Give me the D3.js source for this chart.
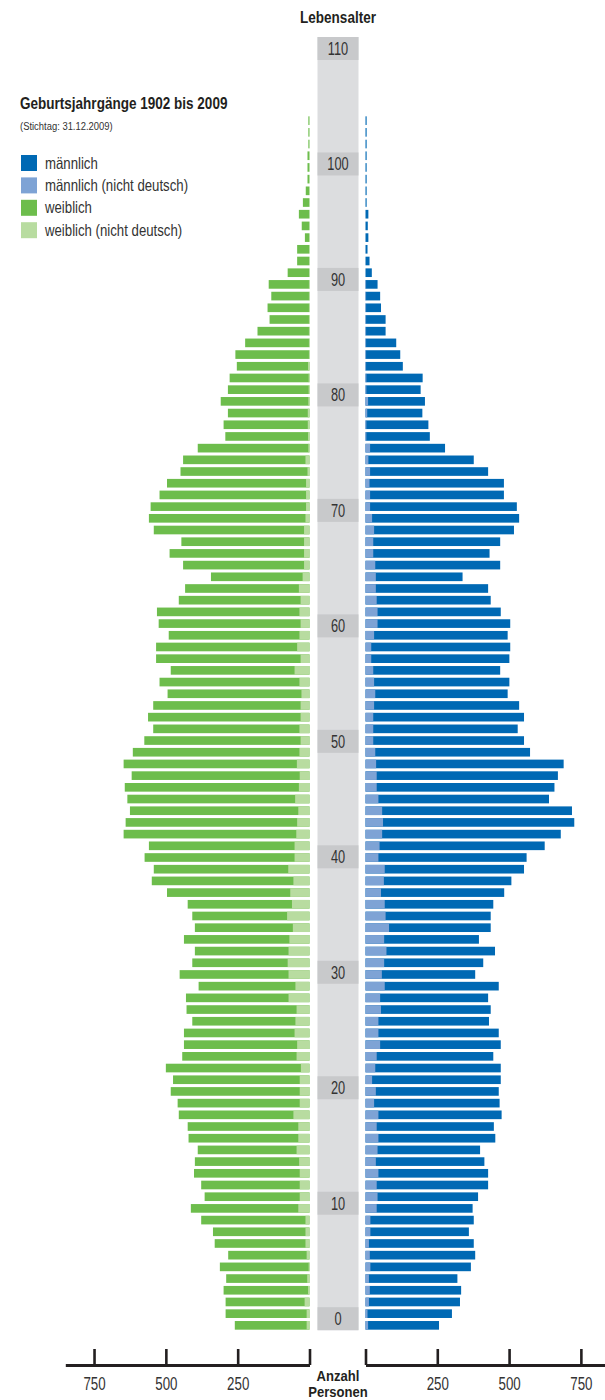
<!DOCTYPE html>
<html>
<head>
<meta charset="utf-8">
<script src="https://cdn.jsdelivr.net/npm/d3@7"></script>
<style>
  body { margin: 0; background: #fff; }
  svg { display: block; font-family: "Liberation Sans", Arial, sans-serif; }
</style>
</head>
<body>
<svg id="chart" width="605" height="1400"></svg>
<script>
// ages 0..103 (index = age)
const femaleTotal = [260, 292, 292, 299, 290, 312, 283, 330, 336, 377,
    413, 365, 377, 402, 399, 389, 421, 424, 455, 459,
    483, 475, 500, 443, 437, 437, 408, 428, 430, 386,
    452, 408, 399, 437, 399, 408, 424, 496, 549, 542,
    574, 559, 647, 640, 625, 634, 643, 619, 647, 615,
    575, 544, 562, 544, 494, 522, 483, 534, 534, 490,
    525, 531, 455, 433, 343, 440, 487, 446, 542, 559,
    553, 522, 496, 449, 440, 389, 293, 299, 284, 309,
    284, 278, 253, 258, 224, 181, 139, 146, 133, 142,
    76, 43, 43, 16, 27, 37, 23, 13, 7, 7,
    7, 4, 4, 4];
const femaleForeign = [10, 10, 17, 5, 8, 3, 10, 14, 14, 14,
    39, 34, 34, 34, 36, 45, 39, 39, 56, 34,
    34, 34, 30, 45, 43, 52, 49, 45, 73, 49,
    73, 76, 73, 70, 58, 78, 61, 67, 56, 74,
    52, 52, 46, 43, 39, 50, 37, 34, 44, 35,
    31, 35, 31, 31, 28, 35, 52, 31, 43, 35,
    31, 35, 31, 37, 24, 19, 19, 19, 19, 14,
    12, 12, 12, 7, 14, 4, 5, 6, 6, 4,
    3, 3, 5, 2, 2, 2, 2, 2, 2, 2,
    0, 0, 0, 0, 0, 0, 0, 0, 0, 0,
    0, 0, 0, 0];
const maleTotal = [256, 301, 329, 333, 320, 367, 382, 377, 360, 377,
    373, 392, 427, 427, 414, 399, 452, 447, 474, 467,
    464, 471, 471, 445, 471, 464, 430, 436, 427, 464,
    382, 410, 451, 395, 436, 436, 445, 483, 508, 552,
    561, 624, 680, 727, 719, 639, 658, 670, 690, 573,
    552, 530, 552, 535, 495, 501, 469, 501, 504, 495,
    504, 471, 436, 427, 338, 469, 432, 469, 517, 535,
    527, 482, 482, 427, 377, 277, 224, 219, 198, 207,
    192, 199, 130, 121, 107, 70, 70, 54, 51, 42,
    22, 14, 7, 10, 8, 10, 4, 4, 4, 4,
    4, 4, 4, 4];
const maleForeign = [9, 7, 12, 15, 12, 17, 15, 12, 17, 17,
    39, 42, 39, 45, 36, 42, 45, 39, 45, 30,
    36, 23, 34, 39, 51, 45, 45, 54, 51, 67,
    57, 65, 73, 65, 82, 70, 67, 54, 64, 67,
    45, 49, 58, 61, 58, 45, 39, 39, 37, 34,
    27, 27, 27, 30, 34, 30, 27, 20, 20, 30,
    42, 42, 39, 36, 36, 34, 27, 27, 30, 23,
    16, 16, 14, 16, 10, 16, 3, 3, 6, 9,
    3, 3, 2, 2, 2, 2, 2, 2, 2, 2,
    0, 0, 0, 0, 0, 0, 0, 0, 0, 0,
    0, 0, 0, 0];

const ageLabels = [0, 10, 20, 30, 40, 50, 60, 70, 80, 90, 100, 110];
const axisTicks = [0, 250, 500, 750];

const legendItems = [
    { label: "männlich", color: "#0069b4" },
    { label: "männlich (nicht deutsch)", color: "#7ea3d5" },
    { label: "weiblich", color: "#6dbd4c" },
    { label: "weiblich (nicht deutsch)", color: "#b8dca0" }
];

const svg = d3.select("#chart");
const NARROW = 0.82; // squeeze Liberation Sans to look like a condensed face

// text helper: condensed look via horizontal scale
function addText(parent, x, y, txt, size, opts = {}) {
    return parent.append("text")
        .attr("transform", `translate(${x},${y}) scale(${opts.squeeze || NARROW},1)`)
        .attr("text-anchor", opts.anchor || "start")
        .attr("font-size", size)
        .attr("font-weight", opts.bold ? "bold" : "normal")
        .attr("fill", opts.fill || "#333")
        .text(txt);
}

const ages = d3.range(femaleTotal.length);
const rows = ages.map(a => ({
    age: a,
    fTot: femaleTotal[a], fFor: femaleForeign[a],
    mTot: maleTotal[a], mFor: maleForeign[a]
}));

// scales
const xLeft = d3.scaleLinear().domain([0, 850]).range([309.5, 65.3]);
const xRight = d3.scaleLinear().domain([0, 834]).range([365.5, 605]);
const y = d3.scaleBand()
    .domain(ages.slice().reverse())
    .range([114.8, 1331.2])
    .paddingInner(0.26)
    .paddingOuter(0.13);
const yLab = d3.scaleLinear().domain([0, 110]).range([1318.7, 48.5]);

// middle grey column
const bandX = 317.5, bandW = 41, boxH = 23;
svg.append("rect")
    .attr("x", bandX)
    .attr("y", yLab(110) - boxH / 2)
    .attr("width", bandW)
    .attr("height", yLab(0) - yLab(110) + boxH)
    .attr("fill", "#dcdddf");

const lab = svg.append("g").selectAll("g")
    .data(ageLabels)
    .enter().append("g")
    .attr("transform", d => `translate(0,${yLab(d)})`);
lab.append("rect")
    .attr("x", bandX)
    .attr("y", -boxH / 2)
    .attr("width", bandW)
    .attr("height", boxH)
    .attr("fill", "#c8c9cb");
lab.each(function (d) {
    addText(d3.select(this), bandX + bandW / 2, 6.3, d, 17.5, { anchor: "middle", squeeze: 0.73 });
});

addText(svg, 338, 23, "Lebensalter", 16.5, { anchor: "middle", bold: true, fill: "#231f20" });

// bars: women to the left, men to the right; non-German part next to the centre
const gBars = svg.append("g");
const h = y.bandwidth();

gBars.selectAll(".fTot").data(rows).enter().append("rect")
    .attr("x", d => xLeft(d.fTot))
    .attr("y", d => y(d.age))
    .attr("width", d => xLeft(0) - xLeft(d.fTot))
    .attr("height", h)
    .attr("fill", legendItems[2].color);
gBars.selectAll(".fFor").data(rows).enter().append("rect")
    .attr("x", d => xLeft(d.fFor))
    .attr("y", d => y(d.age))
    .attr("width", d => xLeft(0) - xLeft(d.fFor))
    .attr("height", h)
    .attr("fill", legendItems[3].color);
gBars.selectAll(".mTot").data(rows).enter().append("rect")
    .attr("x", xRight(0))
    .attr("y", d => y(d.age))
    .attr("width", d => xRight(d.mTot) - xRight(0))
    .attr("height", h)
    .attr("fill", legendItems[0].color);
gBars.selectAll(".mFor").data(rows).enter().append("rect")
    .attr("x", xRight(0))
    .attr("y", d => y(d.age))
    .attr("width", d => xRight(d.mFor) - xRight(0))
    .attr("height", h)
    .attr("fill", legendItems[1].color);

// axes
const axisY = 1365;
function styleAxis(g) {
    g.select(".domain").attr("stroke", "#231f20").attr("stroke-width", 2.8);
    g.selectAll(".tick line").attr("stroke", "#231f20").attr("stroke-width", 2.6);
    g.selectAll(".tick text")
        .attr("font-size", 18)
        .attr("fill", "#333")
        .attr("font-family", "Liberation Sans, Arial, sans-serif")
        .attr("transform", "scale(0.74,1)");
}
svg.append("g")
    .attr("transform", `translate(0,${axisY})`)
    .call(d3.axisBottom(xLeft).tickValues(axisTicks).tickSizeInner(-16).tickSizeOuter(0)
        .tickPadding(12).tickFormat(d => d === 0 ? "" : d))
    .call(styleAxis);
svg.append("g")
    .attr("transform", `translate(0,${axisY})`)
    .call(d3.axisBottom(xRight).tickValues(axisTicks).tickSizeInner(-16).tickSizeOuter(0)
        .tickPadding(12).tickFormat(d => d === 0 ? "" : d))
    .call(styleAxis);

addText(svg, 338, 1380.5, "Anzahl", 14.5, { anchor: "middle", bold: true, fill: "#231f20", squeeze: 0.9 });
addText(svg, 338, 1396.5, "Personen", 14.5, { anchor: "middle", bold: true, fill: "#231f20", squeeze: 0.9 });

// title + legend
addText(svg, 20, 109, "Geburtsjahrgänge 1902 bis 2009", 16.5, { bold: true, fill: "#231f20" });
addText(svg, 20, 130, "(Stichtag: 31.12.2009)", 11.5);

const leg = svg.append("g").selectAll("g")
    .data(legendItems)
    .enter().append("g")
    .attr("transform", (d, i) => `translate(21,${155 + i * 22.4})`);
leg.append("rect")
    .attr("width", 16).attr("height", 16)
    .attr("fill", d => d.color);
leg.each(function (d) {
    addText(d3.select(this), 24, 13.5, d.label, 16.5, { squeeze: 0.8 });
});
</script>
</body>
</html>
